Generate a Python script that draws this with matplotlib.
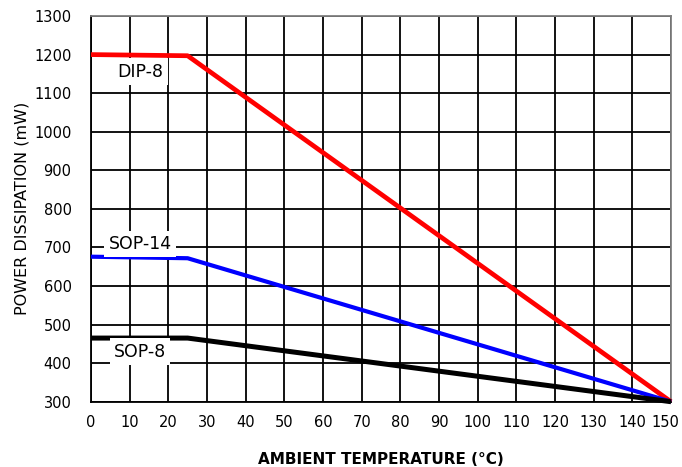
import matplotlib
matplotlib.use('Agg')
import matplotlib.pyplot as plt
from matplotlib.transforms import ScaledTranslation

# derating curves
temp = [0, 25, 150]
dip8 = [1200, 1197, 300]
sop14 = [676, 672, 300]
sop8 = [465, 465, 300]

labels = ["DIP-8", "SOP-14", "SOP-8"]
label_x = [12.8, 12.7, 12.7]
label_y = [1156, 709, 430]

x_ticks = list(range(0, 151, 10))
y_ticks = list(range(300, 1301, 100))

plt.rcParams['font.family'] = ['DejaVu Sans']

fig = plt.figure(figsize=(6.82, 4.67), dpi=100)
ax = fig.add_axes([0.1334, 0.1398, 0.8505, 0.8259])

ax.set_xlim(0, 150)
ax.set_ylim(300, 1300)
ax.set_xticks(x_ticks)
ax.set_yticks(y_ticks)
ax.grid(True, color='black', linewidth=1.3, zorder=1)
ax.set_axisbelow(True)

ax.plot(temp, dip8, color='#ff0000', linewidth=3.4, solid_capstyle='butt', zorder=3, clip_on=False)
ax.plot(temp, sop14, color='#0000ff', linewidth=3.0, solid_capstyle='butt', zorder=3, clip_on=False)
ax.plot(temp, sop8, color='black', linewidth=3.6, solid_capstyle='butt', zorder=3, clip_on=False)

for name, lx, ly in zip(labels, label_x, label_y):
    ax.text(lx, ly, name, fontsize=12.5, ha='center', va='center', zorder=4,
            bbox=dict(facecolor='white', edgecolor='none', pad=3))

ax.tick_params(axis='both', length=0, labelsize=10.5)
ax.tick_params(axis='x', pad=9.5)
ax.tick_params(axis='y', pad=14)

# last x label sits a little left of its grid line, as in the original
fig.canvas.draw()
last = ax.get_xticklabels()[-1]
last.set_transform(last.get_transform() + ScaledTranslation(-4 / 72, 0, fig.dpi_scale_trans))

for side in ['left', 'bottom']:
    ax.spines[side].set_color('black')
    ax.spines[side].set_linewidth(1.3)
for side in ['top', 'right']:
    ax.spines[side].set_color('#808080')
    ax.spines[side].set_linewidth(1.3)

ax.set_xlabel("AMBIENT TEMPERATURE (°C)", fontsize=11, fontweight='bold', labelpad=16)
ax.set_ylabel("POWER DISSIPATION (mW)", fontsize=11.5, labelpad=3)

fig.savefig("out.png", dpi=100)
